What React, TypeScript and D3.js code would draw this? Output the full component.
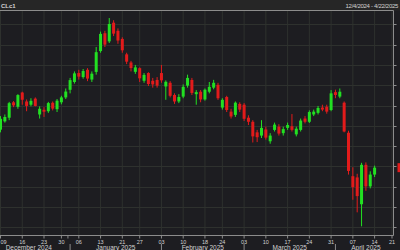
import React from "react";
import * as d3 from "d3";

const dates = [
  "2024-12-04","2024-12-05","2024-12-06",
  "2024-12-09","2024-12-10","2024-12-11","2024-12-12","2024-12-13",
  "2024-12-16","2024-12-17","2024-12-18","2024-12-19","2024-12-20",
  "2024-12-23","2024-12-24","2024-12-26","2024-12-27",
  "2024-12-30","2024-12-31","2025-01-02","2025-01-03",
  "2025-01-06","2025-01-07","2025-01-08","2025-01-09","2025-01-10",
  "2025-01-13","2025-01-14","2025-01-15","2025-01-16","2025-01-17",
  "2025-01-21","2025-01-22","2025-01-23","2025-01-24",
  "2025-01-27","2025-01-28","2025-01-29","2025-01-30","2025-01-31",
  "2025-02-03","2025-02-04","2025-02-05","2025-02-06","2025-02-07",
  "2025-02-10","2025-02-11","2025-02-12","2025-02-13","2025-02-14",
  "2025-02-18","2025-02-19","2025-02-20","2025-02-21",
  "2025-02-24","2025-02-25","2025-02-26","2025-02-27","2025-02-28",
  "2025-03-03","2025-03-04","2025-03-05","2025-03-06","2025-03-07",
  "2025-03-10","2025-03-11","2025-03-12","2025-03-13","2025-03-14",
  "2025-03-17","2025-03-18","2025-03-19","2025-03-20","2025-03-21",
  "2025-03-24","2025-03-25","2025-03-26","2025-03-27","2025-03-28",
  "2025-03-31","2025-04-01","2025-04-02","2025-04-03","2025-04-04",
  "2025-04-07","2025-04-08","2025-04-09","2025-04-10","2025-04-11",
  "2025-04-14",
];

const futureDates = ["2025-04-15","2025-04-16","2025-04-17","2025-04-21","2025-04-22"];

const opens = [
  69.90,68.50,68.20,
  67.03,68.05,68.50,70.40,69.85,
  71.60,70.50,70.10,70.85,68.90,
  69.48,69.30,70.34,69.55,
  70.40,71.00,71.94,72.90,
  74.00,73.50,74.40,73.20,74.14,
  76.70,78.90,77.90,80.20,79.20,
  78.20,76.30,75.30,74.15,
  74.60,73.05,74.00,73.05,73.15,
  74.00,72.35,72.80,71.30,70.50,
  71.10,72.45,73.15,71.40,71.70,
  70.75,71.70,72.20,72.55,
  69.75,71.05,69.25,68.85,70.20,
  70.10,68.50,68.00,66.70,66.30,
  67.05,65.60,67.00,67.40,66.60,
  67.25,67.45,66.45,67.00,68.40,
  68.00,68.90,69.10,69.75,69.85,
  69.45,71.65,71.10,70.35,66.65,
  61.30,61.15,57.85,62.70,60.05,
  61.50,
];

const highs = [
  70.25,69.10,68.40,
  68.70,68.90,70.45,70.55,71.40,
  71.70,70.75,70.90,71.00,69.90,
  69.80,70.45,70.50,70.80,
  71.20,72.10,73.40,74.20,
  74.40,74.50,74.60,74.20,77.20,
  79.10,79.20,80.77,80.50,79.50,
  78.40,76.50,75.50,75.00,
  74.70,74.00,74.10,73.40,73.50,
  75.00,73.10,73.00,71.50,71.40,
  72.60,73.80,73.40,71.90,71.90,
  72.10,72.90,73.16,72.80,
  70.90,71.20,69.60,70.50,70.40,
  70.30,68.80,68.20,67.00,68.20,
  67.40,66.60,67.90,67.70,67.40,
  67.90,68.95,67.40,68.40,68.70,
  69.40,69.50,69.95,70.10,70.10,
  71.90,71.95,72.10,70.50,66.90,
  62.40,61.60,62.95,63.00,61.90,
  62.60,
];

const lows = [
  68.40,67.90,66.90,
  66.70,67.90,68.20,69.80,69.60,
  70.10,69.30,69.90,69.90,68.40,
  68.60,69.10,69.40,69.20,
  70.15,70.80,71.50,72.70,
  73.20,73.30,73.00,72.90,73.80,
  76.50,77.20,77.70,78.55,77.60,
  76.50,75.10,74.20,73.90,
  72.90,72.80,72.40,72.20,72.20,
  72.80,70.71,71.00,70.20,70.30,
  70.90,72.20,71.30,70.10,70.40,
  70.60,71.50,72.00,70.70,
  69.50,69.20,68.40,68.60,69.20,
  68.10,67.60,65.45,65.50,66.00,
  65.80,65.30,66.80,66.30,66.30,
  67.00,66.80,66.20,66.80,67.80,
  67.85,68.70,68.90,69.30,69.00,
  69.30,70.90,70.90,66.70,61.50,
  58.40,56.85,55.13,59.50,59.80,
  61.20,
];

const closes = [
  68.54,68.30,67.20,
  68.37,68.59,70.29,70.02,71.29,
  70.71,69.95,70.58,69.95,69.60,
  69.24,70.30,69.62,70.60,
  71.00,71.72,73.13,73.96,
  73.56,74.25,73.32,73.92,76.57,
  78.82,77.50,80.04,78.85,78.00,
  76.80,75.40,74.62,74.70,
  73.35,73.77,72.65,72.60,72.45,
  73.10,72.92,71.20,70.50,71.05,
  72.30,73.40,71.55,71.65,70.75,
  71.95,72.30,72.80,70.90,
  70.70,69.45,68.65,70.35,69.50,
  68.37,68.00,66.20,66.10,67.25,
  66.05,66.30,67.65,66.55,67.10,
  67.60,67.00,67.15,68.15,68.00,
  69.20,69.25,69.70,69.50,69.25,
  71.50,71.30,71.70,66.80,61.95,
  59.95,58.85,62.70,60.05,61.50,
  62.35,
];

const weekTicks = [
  "2024-12-09","2024-12-16","2024-12-23","2024-12-30","2025-01-06","2025-01-13",
  "2025-01-21","2025-01-27","2025-02-03","2025-02-10","2025-02-18","2025-02-24",
  "2025-03-03","2025-03-10","2025-03-17","2025-03-24","2025-03-31","2025-04-07",
  "2025-04-14","2025-04-21",
];

const monthStarts = ["2025-01-02","2025-02-03","2025-03-03","2025-04-01"];
const monthNames = ["December 2024","January 2025","February 2025","March 2025","April 2025"];

const symbol = "CLc1";
const rangeLabel = "12/4/2024 - 4/22/2025";
const priceDomain = [54.0, 81.7];
const gridStep = 2.5;

const W = 400;
const H = 250;
const plotTop = 10.5;
const plotBottom = 235.5;
const plotRight = 393.5;

const BG = "#1d1d21";
const HEADER_BG = "#262626";
const AXIS = "#8c8c8c";
const GRID = "#2e312e";
const TEXT = "#d2d2d2";
const UP = "#22e022";
const DOWN = "#e21b1b";

export default function App() {
  const allDays = [...dates, ...futureDates];
  const x = d3
    .scalePoint<string>()
    .domain(allDays)
    .range([0.5 - 3 * 4.35, 0.5 + 91 * 4.35]);
  const y = d3.scaleLinear().domain(priceDomain).range([plotBottom, plotTop]);

  const gridVals = d3.range(55, 81, gridStep);
  const fmtDay = d3.timeFormat("%d");
  const parse = d3.timeParse("%Y-%m-%d");

  const monthBounds = [x(dates[0])!, ...monthStarts.map((d) => x(d)!), x(allDays[allDays.length - 1])!];
  const yearMark = (x("2024-12-31")! + x("2025-01-02")!) / 2;

  const candles = dates.map((d, i) => ({
    d,
    o: opens[i],
    h: highs[i],
    l: lows[i],
    c: closes[i],
  }));
  const last = candles[candles.length - 1];
  const bodyW = 3;

  return (
    <svg
      width={W}
      height={H}
      style={{ position: "fixed", left: 0, top: 0, display: "block" }}
      fontFamily="'Liberation Sans', Arial, sans-serif"
    >
      <defs>
        <clipPath id="plotClip">
          <rect x={0} y={plotTop} width={plotRight} height={plotBottom - plotTop} />
        </clipPath>
      </defs>
      <rect x={0} y={0} width={W} height={H} fill={BG} />
      <rect x={0} y={0} width={W} height={plotTop} fill={HEADER_BG} />

      <g clipPath="url(#plotClip)">
        {weekTicks.map((t) => (
          <line key={t} x1={x(t)} x2={x(t)} y1={plotTop} y2={plotBottom} stroke={GRID} strokeWidth={1} />
        ))}
        {gridVals.map((v) => (
          <line key={v} x1={0} x2={plotRight} y1={Math.round(y(v)) + 0.5} y2={Math.round(y(v)) + 0.5} stroke={GRID} strokeWidth={1} />
        ))}
        {candles.map((k) => {
          const cx = x(k.d)!;
          const up = k.c >= k.o;
          const col = up ? UP : DOWN;
          const top = y(Math.max(k.o, k.c));
          const bot = y(Math.min(k.o, k.c));
          return (
            <g key={k.d}>
              <line x1={cx} x2={cx} y1={y(k.h)} y2={y(k.l)} stroke={col} strokeWidth={1} />
              <rect x={cx - bodyW / 2} y={top} width={bodyW} height={Math.max(1, bot - top)} fill={col} />
            </g>
          );
        })}
      </g>

      <text x={1} y={8} fontSize={6} fontWeight="bold" fill={TEXT}>
        {symbol}
      </text>
      <text x={398} y={8} fontSize={6} fill={TEXT} textAnchor="end" letterSpacing={-0.3}>
        {rangeLabel}
      </text>
      <line x1={0} x2={plotRight} y1={plotTop} y2={plotTop} stroke={AXIS} strokeWidth={1} />

      <line x1={plotRight} x2={plotRight} y1={plotTop} y2={plotBottom} stroke={AXIS} strokeWidth={1} />
      {gridVals.map((v) => (
        <line key={"rt" + v} x1={plotRight} x2={plotRight + 3} y1={Math.round(y(v)) + 0.5} y2={Math.round(y(v)) + 0.5} stroke={AXIS} strokeWidth={1} />
      ))}
      <rect x={plotRight + 4} y={y(last.c) - 4.5} width={20} height={9} fill={DOWN} />

      <line x1={0} x2={plotRight} y1={plotBottom} y2={plotBottom} stroke={AXIS} strokeWidth={1} />
      {weekTicks.map((t, i) => {
        const tx = x(t)!;
        const first = i === 0;
        return (
          <g key={"b" + t}>
            <line x1={tx} x2={tx} y1={plotBottom} y2={plotBottom + 3} stroke={AXIS} strokeWidth={1} />
            <text
              x={first ? 0.5 : tx}
              y={243.5}
              fontSize={5.5}
              fill={TEXT}
              textAnchor={first ? "start" : "middle"}
            >
              {fmtDay(parse(t)!)}
            </text>
          </g>
        );
      })}
      <line x1={yearMark} x2={yearMark} y1={plotBottom} y2={plotBottom + 3} stroke={AXIS} strokeWidth={1} />
      {monthStarts.map((m) => (
        <line key={"ms" + m} x1={x(m)} x2={x(m)} y1={244} y2={250} stroke={AXIS} strokeWidth={1} />
      ))}
      {monthNames.map((n, i) => (
        <text key={n} x={(monthBounds[i] + monthBounds[i + 1]) / 2} y={250} fontSize={6.5} fill={TEXT} textAnchor="middle">
          {n}
        </text>
      ))}
    </svg>
  );
}
